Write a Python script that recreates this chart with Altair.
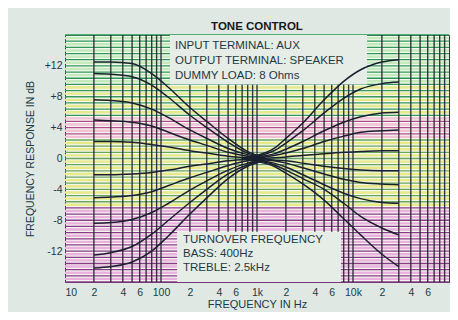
import altair as alt
import pandas as pd
import numpy as np

# ---------------- data ----------------
bass_freqs = [20, 30, 50, 80, 120, 200, 300, 500, 800, 1200]
bass_curves = {
    "B1": [12.5, 12.5, 12.3, 11.0, 9.2, 6.6, 4.8, 2.6, 0.9, 0.2],
    "B2": [11.0, 10.9, 10.6, 9.5, 7.9, 5.6, 4.0, 2.1, 0.7, 0.2],
    "B3": [7.6, 7.5, 7.2, 6.4, 5.3, 3.7, 2.6, 1.3, 0.5, 0.1],
    "B4": [5.0, 4.9, 4.7, 4.2, 3.4, 2.4, 1.7, 0.8, 0.3, 0.1],
    "B5": [2.2, 2.2, 2.1, 1.8, 1.5, 1.0, 0.7, 0.3, 0.1, 0.0],
    "C1": [-2.1, -2.1, -2.0, -1.8, -1.5, -1.0, -0.7, -0.3, -0.1, 0.0],
    "C2": [-5.1, -5.0, -4.8, -4.3, -3.5, -2.5, -1.8, -0.9, -0.3, -0.1],
    "C3": [-8.4, -8.3, -7.9, -7.0, -5.8, -4.1, -2.9, -1.5, -0.6, -0.2],
    "C4": [-12.5, -12.2, -11.4, -9.8, -8.0, -5.7, -4.0, -2.0, -0.8, -0.2],
    "C5": [-14.2, -14.0, -13.4, -12.0, -10.0, -7.2, -5.1, -2.6, -1.0, -0.3],
}
treble_freqs = [700, 1000, 1500, 2000, 3000, 5000, 8000, 12000, 20000, 30000]
treble_curves = {
    "T1": [0.1, 0.4, 1.3, 2.6, 4.6, 7.6, 10.0, 11.5, 12.5, 12.8],
    "T2": [0.1, 0.3, 1.0, 2.0, 3.6, 5.9, 7.8, 9.0, 9.7, 9.9],
    "T3": [0.05, 0.2, 0.6, 1.2, 2.2, 3.6, 4.7, 5.4, 5.9, 6.0],
    "T4": [0.0, 0.1, 0.4, 0.7, 1.3, 2.2, 2.9, 3.4, 3.6, 3.7],
    "T5": [0.0, 0.0, 0.1, 0.2, 0.4, 0.6, 0.8, 0.9, 1.0, 1.0],
    "S1": [0.0, -0.1, -0.2, -0.3, -0.6, -1.0, -1.3, -1.5, -1.6, -1.6],
    "S2": [0.0, -0.1, -0.3, -0.6, -1.2, -2.0, -2.7, -3.1, -3.3, -3.4],
    "S3": [-0.05, -0.2, -0.6, -1.1, -2.1, -3.4, -4.5, -5.2, -5.7, -5.8],
    "S4": [-0.1, -0.3, -0.8, -1.5, -2.6, -4.0, -5.8, -7.5, -9.0, -9.9],
    "S5": [-0.1, -0.4, -1.0, -1.9, -3.3, -5.4, -7.8, -9.9, -12.4, -14.0],
}

x_tick_values = [10, 20, 40, 60, 100, 200, 400, 600, 1000, 2000, 4000, 6000,
                 10000, 20000, 40000, 60000]
x_tick_labels = ["10", "2", "4", "6", "100", "2", "4", "6", "1k", "2", "4", "6",
                 "10k", "2", "4", "6"]
y_tick_values = [12, 8, 4, 0, -4, -8, -12]
y_tick_labels = ["+12", "+8", "+4", "0", "-4", "-8", "-12"]

title_text = "TONE CONTROL"
top_notes = ["INPUT TERMINAL: AUX", "OUTPUT TERMINAL: SPEAKER", "DUMMY LOAD: 8 Ohms"]
bottom_notes = ["TURNOVER FREQUENCY", "BASS: 400Hz", "TREBLE: 2.5kHz"]

# ---------------- tables ----------------
rows = []
for name, vals in bass_curves.items():
    for f, v in zip(bass_freqs, vals):
        rows.append({"curve": name, "f": f, "db": v})
for name, vals in treble_curves.items():
    for f, v in zip(treble_freqs, vals):
        rows.append({"curve": name, "f": f, "db": v})
curves_df = pd.DataFrame(rows)

XDOM = [10, 100000]
YDOM = [-16, 16]
xs = alt.Scale(type="log", domain=XDOM, nice=False)
ys = alt.Scale(domain=YDOM, nice=False, zero=False)


def band_colors(y):
    if y > 10:
        return "#2a9a56", "#c4eabc"
    if y > 5.5:
        return "#35995a", "#e4ea8a"
    if y > 2.5:
        return "#b24c8e", "#f2c2d6"
    if y > -6:
        return "#68a85c", "#e8ea88"
    return "#8a3a8c", "#eab0de"


hrows = []
for y in np.arange(-16, 16.01, 0.8):
    dark, light = band_colors(y)
    hrows.append({"y": float(y), "c": dark, "w": 1.3})
    if y + 0.4 < 16:
        dark2, light2 = band_colors(y + 0.4)
        hrows.append({"y": float(y + 0.4), "c": light2, "w": 2.4})
h_df = pd.DataFrame(hrows)

vvals = []
for d in [10, 100, 1000, 10000]:
    for m in range(1, 10):
        if d == 10 and m == 1:
            continue
        vvals.append(d * m)
v_df = pd.DataFrame({"f": vvals})

boxes_df = pd.DataFrame({
    "x": [124, 147], "x2": [14000, 7500],
    "y": [9.6, -16], "y2": [16, -9.5],
})

label_expr = " : ".join(
    f"datum.value == {v} ? '{t}'" for v, t in zip(x_tick_values, x_tick_labels)
) + " : ''"
ylabel_expr = " : ".join(
    f"datum.value == {v} ? '{t}'" for v, t in zip(y_tick_values, y_tick_labels)
) + " : ''"

FONT = "Liberation Sans"
TXT = "#1e3a44"

x_axis = alt.Axis(values=x_tick_values, labelExpr=label_expr, ticks=False,
                  domain=False, grid=False, labelFont=FONT, labelFontSize=10.5,
                  labelColor=TXT, labelPadding=5, labelFlush=False,
                  labelOverlap=False,
                  labelAlign={"condition": {"test": "datum.value == 10", "value": "left"},
                              "value": "center"},
                  title="FREQUENCY IN Hz", titleFont=FONT, titleFontSize=11,
                  titleFontWeight="normal", titleColor=TXT, titlePadding=1)
y_axis = alt.Axis(values=y_tick_values, labelExpr=ylabel_expr, ticks=False,
                  domain=False, grid=False, labelFont=FONT, labelFontSize=10.5,
                  labelColor=TXT, labelPadding=3,
                  title="FREQUENCY RESPONSE IN dB", titleFont=FONT,
                  titleFontSize=10.5, titleFontWeight="normal",
                  titleColor=TXT, titlePadding=9)

hlines = alt.Chart(h_df).mark_rule().encode(
    y=alt.Y("y:Q", scale=ys, axis=y_axis),
    color=alt.Color("c:N", scale=None),
    strokeWidth=alt.StrokeWidth("w:Q", scale=None),
)

vlines = alt.Chart(v_df).mark_rule(color="#262430", strokeWidth=1.4, opacity=0.9).encode(
    x=alt.X("f:Q", scale=xs, axis=x_axis),
)

boxes = alt.Chart(boxes_df).mark_rect(color="#e6ece6").encode(
    x=alt.X("x:Q", scale=xs, axis=x_axis), x2="x2:Q",
    y=alt.Y("y:Q", scale=ys, axis=y_axis), y2="y2:Q",
)

lines = alt.Chart(curves_df).mark_line(
    color="#1a2030", strokeWidth=1.5, interpolate="monotone"
).encode(
    x=alt.X("f:Q", scale=xs, axis=x_axis),
    y=alt.Y("db:Q", scale=ys, axis=y_axis),
    detail="curve:N",
)


def text_layer(t, x, y, size=11.5, weight="normal", color=TXT, align="left"):
    return alt.Chart(pd.DataFrame({"t": [t]})).mark_text(
        font=FONT, fontSize=size, fontWeight=weight, color=color, align=align,
        baseline="middle"
    ).encode(text="t:N", x=alt.value(x), y=alt.value(y))


texts = [text_layer(title_text, 192, -8, size=11.5, weight="bold", color="#161a20",
                    align="center")]
for t, yy in zip(top_notes, [11, 26, 41]):
    texts.append(text_layer(t, 110, yy))
for t, yy in zip(bottom_notes, [205, 219, 233]):
    texts.append(text_layer(t, 118, yy))

chart = alt.layer(hlines, vlines, boxes, lines, *texts).properties(
    width=384, height=247,
    autosize=alt.AutoSizeParams(type="none"),
    padding={"left": 57, "top": 27, "right": 1, "bottom": 30},
    background="#dfe8e2",
).configure_view(
    stroke="#3a3040", strokeWidth=1, fill="#f4f6ee"
)

chart.save("out.html", embed_options={"renderer": "svg", "actions": False})
